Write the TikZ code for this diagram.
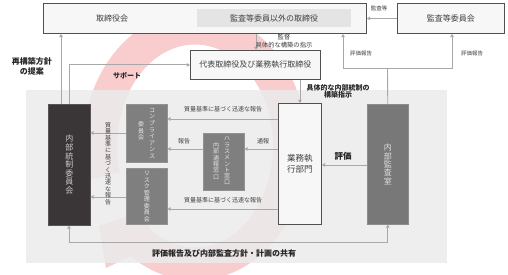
\documentclass[tikz,border=0pt]{standalone}
\usepackage{fontspec}
\setmainfont{Noto Sans CJK JP}
\usetikzlibrary{arrows.meta}
\definecolor{boxline}{HTML}{505050}
\definecolor{boxfill}{HTML}{F7F7F7}
\definecolor{innerfill}{HTML}{E4E4E4}
\definecolor{region}{HTML}{EBEBEB}
\definecolor{darkbox}{HTML}{3A3638}
\definecolor{midbox}{HTML}{7F7F7F}
\definecolor{auditbox}{HTML}{787878}
\definecolor{connc}{HTML}{A8A8A8}
\definecolor{txt}{HTML}{404040}
\definecolor{arcc}{HTML}{F9CDCD}
\begin{document}
\begin{tikzpicture}[x=1pt,y=-1pt,
  whitebox/.style={draw=boxline, line width=0.9pt, fill=boxfill, anchor=north west, inner sep=0pt},
  graybox/.style={fill=#1, draw=#1!85!white, line width=0.5pt, anchor=north west, inner sep=0pt},
  conn/.style={draw=connc, line width=0.9pt, -{Triangle[length=3.2pt,width=3.6pt]}},
  plainconn/.style={draw=connc, line width=0.9pt},
  boxtext/.style={text=txt, font=\fontsize{8}{10}\selectfont, inner sep=0pt, align=center},
  lbl/.style={text=txt, font=\fontsize{6}{7}\selectfont, inner sep=0pt, align=center},
  tinylbl/.style={text=txt, font=\fontsize{5.5}{6.5}\selectfont, inner sep=0pt},
  blbl/.style={text=black!85, font=\bfseries\fontsize{#1}{#1}\selectfont, inner sep=0pt, align=center},
  vtext/.style={align=center, inner sep=0pt},
]
\useasboundingbox (0,0) rectangle (508,275);
% red circular arrow
\fill[arcc] plot[domain=165:485, samples=100] ({195+112*cos(\x)},{146+134.5*sin(\x)})
  -- (106,268) -- (99,226) -- (143,211)
  -- plot[domain=485:165, samples=100] ({195+78*cos(\x)},{146+101.5*sin(\x)}) -- cycle;
% gray region
\node[fill=region, fill opacity=0.86, anchor=north west, minimum width=421pt, minimum height=173pt, inner sep=0pt] (G) at (26,90) {};

% top boxes
\node[whitebox, minimum width=323pt, minimum height=30pt] (T) at (43,3) {};
\node[fill=innerfill, anchor=north west, minimum width=154pt, minimum height=18pt, inner sep=0pt] (Ti) at (197,9) {};
\node[boxtext] (Tl) at (112,18) {取締役会};
\node[boxtext] (Til) at (Ti.center) {監査等委員以外の取締役};
\node[whitebox, minimum width=107pt, minimum height=30pt] (A) at (397,3) {};
\node[boxtext] (Al) at (A.center) {監査等委員会};
\node[whitebox, minimum width=130pt, minimum height=29pt] (D) at (190,50) {};
\node[boxtext] (Dl) at (D.center) {代表取締役及び業務執行取締役};

% inner boxes
\node[graybox=darkbox, minimum width=42pt, minimum height=121pt] (N) at (48,104) {};
\node[vtext, text=black!20, font=\fontsize{8}{8.6}\selectfont] (Nl) at (N.center) {内\\部\\統\\制\\委\\員\\会};
\node[graybox=midbox, minimum width=41pt, minimum height=58pt] (C) at (126,104) {};
\node[vtext, text=black!10, font=\fontsize{6}{6.6}\selectfont] (Cl1) at (152,133.5) {コ\\ン\\プ\\ラ\\イ\\ア\\ン\\ス};
\node[vtext, text=black!10, font=\fontsize{6}{6.6}\selectfont] (Cl2) at (141,131) {委\\員\\会};
\node[graybox=midbox, minimum width=41pt, minimum height=56pt] (R) at (126,168) {};
\node[vtext, text=black!10, font=\fontsize{6}{6.5}\selectfont] (Rl) at (R.center) {リ\\ス\\ク\\管\\理\\委\\員\\会};
\node[graybox=midbox, minimum width=41pt, minimum height=57pt] (H) at (203,133) {};
\node[vtext, text=black!10, font=\fontsize{6}{6.3}\selectfont] (Hl1) at (227,161) {ハ\\ラ\\ス\\メ\\ン\\ト\\窓\\口};
\node[vtext, text=black!10, font=\fontsize{6}{6.3}\selectfont] (Hl2) at (216,161) {内\\部\\通\\報\\窓\\口};
\node[whitebox, minimum width=43pt, minimum height=121pt] (B) at (278,103) {};
\node[boxtext, font=\fontsize{8.5}{10.5}\selectfont] (Bl) at (B.center) {業務執\\行部門};
\node[graybox=auditbox, minimum width=41pt, minimum height=120pt] (I) at (367,104) {};
\node[vtext, text=black!12, font=\fontsize{8}{8.4}\selectfont] (Il) at (I.center) {内\\部\\監\\査\\室};

% connectors top
\draw[conn] (A.west) -- (T.east);
\node[tinylbl] (L1) at (379,8) {監査等};
\draw[conn] (T.south -| 256,0) -- (D.north -| 256,0);
\node[lbl, font=\fontsize{6.3}{8}\selectfont] (L2) at (284,41) {監督\\具体的な構築の指示};
\draw[conn] (N.north -| 61,0) -- (T.south -| 61,0);
\draw[conn] (N.north -| 69,0) |- (D.west);
\node[blbl=7] (L3) at (127,76) {サポート};
\node[blbl=8, font=\bfseries\fontsize{8}{10}\selectfont] (L4) at (32,66) {再構築方針\\の提案};
\coordinate (J) at (387.5,68);
\draw[plainconn] (I.north) -- (J);
\draw[conn] (J) -| (T.south -| 343,0);
\draw[conn] (J) -| (A.south -| 452,0);
\node[tinylbl] (L5) at (361,53) {評価報告};
\node[tinylbl] (L6) at (472,53) {評価報告};
\draw[conn] (D.south -| 300,0) -- (B.north -| 300,0);
\node[blbl=7, font=\bfseries\fontsize{7}{7.5}\selectfont] (L7) at (338,91.5) {具体的な内部統制の\\構築指示};

% middle connectors
\draw[conn] (B.west |- 0,119) -- (C.east |- 0,119);
\node[lbl] (L8) at (223,109) {質量基準に基づく迅速な報告};
\draw[conn] (B.west |- 0,149) -- (H.east |- 0,149);
\node[lbl] (L9) at (263,141) {通報};
\draw[conn] (H.west |- 0,149) -- (C.east |- 0,149);
\node[lbl] (L10) at (184,141) {報告};
\draw[conn] (B.west |- 0,209) -- (R.east |- 0,209);
\node[lbl] (L11) at (223,200) {質量基準に基づく迅速な報告};
\draw[conn] (C.west |- 0,133) -- (N.east |- 0,133);
\draw[conn] (R.west |- 0,197) -- (N.east |- 0,197);
\node[vtext, text=txt, font=\fontsize{6}{6.4}\selectfont] (L12) at (108,163.5) {質\\量\\基\\準\\に\\基\\づ\\く\\迅\\速\\な\\報\\告};
\draw[conn] (I.west |- 0,165) -- (B.east |- 0,165);
\node[blbl=8.5] (L13) at (343,156) {評価};

% bottom
\coordinate (K) at (69,242);
\draw[plainconn, {Triangle[length=3.2pt,width=3.6pt]}-{Triangle[length=3.2pt,width=3.6pt]}] (N.south -| K) -- (K) -| (I.south);
\node[blbl=8] (L14) at (224,253) {評価報告及び内部監査方針・計画の共有};
\end{tikzpicture}
\end{document}
